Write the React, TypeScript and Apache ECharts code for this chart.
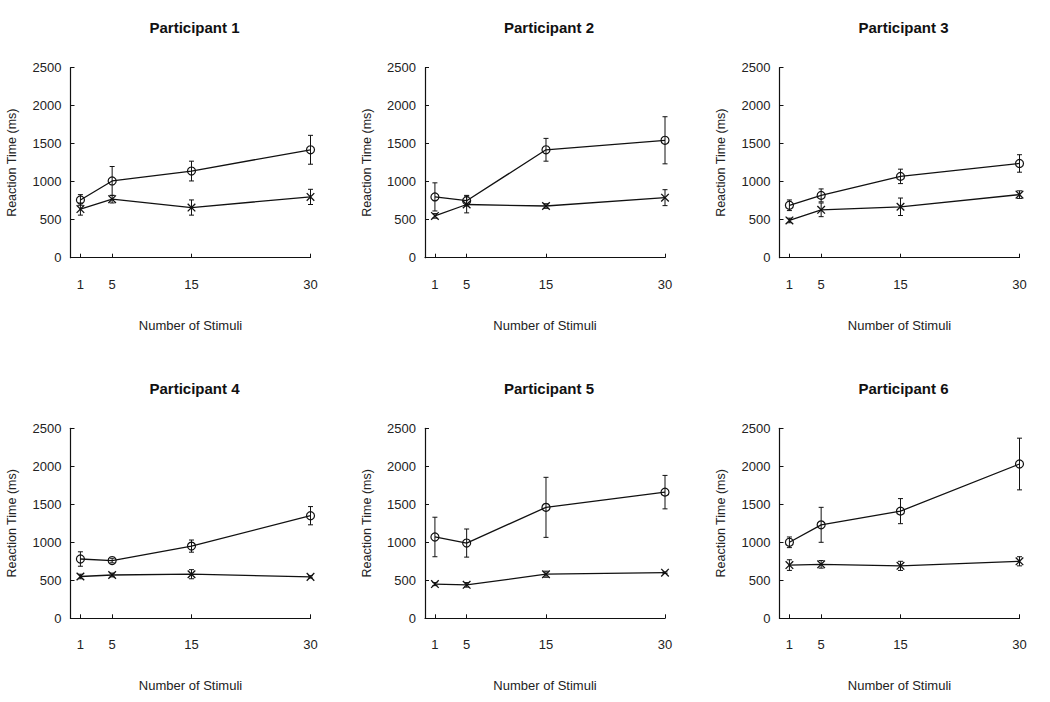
import React, { useEffect, useRef } from "react";
import * as echarts from "echarts";

const stimuli = [1, 5, 15, 30];
const participants = [
  "Participant 1",
  "Participant 2",
  "Participant 3",
  "Participant 4",
  "Participant 5",
  "Participant 6",
];

// open-circle condition (mean, error)
const circleMeans = [
  [760, 1010, 1140, 1420],
  [800, 750, 1420, 1545],
  [690, 820, 1070, 1240],
  [780, 760, 950, 1350],
  [1070, 990, 1460, 1660],
  [1000, 1230, 1410, 2030],
];
const circleErrors = [
  [70, 190, 130, 190],
  [185, 70, 150, 310],
  [70, 85, 95, 115],
  [95, 30, 80, 120],
  [260, 185, 395, 220],
  [70, 230, 165, 340],
];
// cross condition (mean, error)
const crossMeans = [
  [640, 770, 660, 800],
  [550, 700, 680, 790],
  [490, 630, 670, 830],
  [550, 570, 580, 545],
  [450, 440, 580, 600],
  [700, 710, 690, 750],
];
const crossErrors = [
  [80, 50, 100, 100],
  [30, 110, 30, 105],
  [30, 90, 115, 50],
  [30, 25, 60, 15],
  [20, 30, 40, 10],
  [70, 50, 60, 60],
];

const FONT = "'Liberation Sans', Arial, Helvetica, sans-serif";
const INK = "#111";
const TXT = "#222";

const colLeft = [70.5, 425, 779.5];
const rowTop = [67.7, 428.3];
const PW = 240;
const PH = 190;

function errorSeries(panel: number, means: number[], errs: number[], kind: "circle" | "cross") {
  return {
    type: "custom",
    xAxisIndex: panel,
    yAxisIndex: panel,
    data: stimuli.map((s, i) => [s, means[i], errs[i]]),
    encode: { x: 0, y: 1 },
    z: 3,
    renderItem: (_params: any, api: any) => {
      const x = api.value(0);
      const m = api.value(1);
      const e = api.value(2);
      const p = api.coord([x, m]);
      const t = api.coord([x, m + e]);
      const b = api.coord([x, m - e]);
      const st = { stroke: INK, lineWidth: 1, fill: "none" };
      const cap = 2.5;
      const children: any[] = [
        { type: "line", shape: { x1: t[0], y1: t[1], x2: b[0], y2: b[1] }, style: st },
        { type: "line", shape: { x1: t[0] - cap, y1: t[1], x2: t[0] + cap, y2: t[1] }, style: st },
        { type: "line", shape: { x1: b[0] - cap, y1: b[1], x2: b[0] + cap, y2: b[1] }, style: st },
      ];
      if (kind === "circle") {
        children.push({
          type: "circle",
          shape: { cx: p[0], cy: p[1], r: 4 },
          style: { stroke: INK, lineWidth: 1.2, fill: "none" },
        });
      } else {
        const r = 3.8;
        const xs = { stroke: INK, lineWidth: 1.3, fill: "none" };
        children.push({ type: "line", shape: { x1: p[0] - r, y1: p[1] - r, x2: p[0] + r, y2: p[1] + r }, style: xs });
        children.push({ type: "line", shape: { x1: p[0] - r, y1: p[1] + r, x2: p[0] + r, y2: p[1] - r }, style: xs });
      }
      return { type: "group", children };
    },
  };
}

export default function App() {
  const ref = useRef<HTMLDivElement>(null);
  useEffect(() => {
    if (!ref.current) return;
    const chart = echarts.init(ref.current, null, { renderer: "svg" });
    const grids: any[] = [];
    const xAxes: any[] = [];
    const yAxes: any[] = [];
    const series: any[] = [];
    const graphics: any[] = [];
    participants.forEach((name, i) => {
      const c = i % 3;
      const r = Math.floor(i / 3);
      grids.push({ left: colLeft[c], top: rowTop[r], width: PW, height: PH, containLabel: false });
      xAxes.push({
        type: "value",
        gridIndex: i,
        min: -0.25,
        max: 30,
        name: "Number of Stimuli",
        nameLocation: "middle",
        nameGap: 61,
        nameTextStyle: { fontFamily: FONT, fontSize: 13, color: TXT },
        axisLine: { show: true, onZero: false, lineStyle: { color: INK, width: 1.2 } },
        axisTick: { show: true, inside: true, length: 4, customValues: stimuli, lineStyle: { color: INK } },
        axisLabel: {
          show: true,
          customValues: stimuli,
          margin: 20,
          fontFamily: FONT,
          fontSize: 13,
          color: TXT,
          formatter: (v: number) => String(v),
        },
        splitLine: { show: false },
      });
      yAxes.push({
        type: "value",
        gridIndex: i,
        min: 0,
        max: 2500,
        interval: 500,
        name: "Reaction Time (ms)",
        nameLocation: "middle",
        nameRotate: 90,
        nameGap: 52,
        nameTextStyle: { fontFamily: FONT, fontSize: 12.5, color: TXT },
        axisLine: { show: true, onZero: false, lineStyle: { color: INK, width: 1.2 } },
        axisTick: { show: true, inside: true, length: 4, lineStyle: { color: INK } },
        axisLabel: {
          show: true,
          margin: 9,
          fontFamily: FONT,
          fontSize: 13,
          color: TXT,
          formatter: (v: number) => String(v),
        },
        splitLine: { show: false },
      });
      series.push({
        type: "line",
        xAxisIndex: i,
        yAxisIndex: i,
        symbol: "none",
        data: stimuli.map((s, k) => [s, circleMeans[i][k]]),
        lineStyle: { color: INK, width: 1.3 },
        z: 2,
      });
      series.push({
        type: "line",
        xAxisIndex: i,
        yAxisIndex: i,
        symbol: "none",
        data: stimuli.map((s, k) => [s, crossMeans[i][k]]),
        lineStyle: { color: INK, width: 1.3 },
        z: 2,
      });
      series.push(errorSeries(i, circleMeans[i], circleErrors[i], "circle"));
      series.push(errorSeries(i, crossMeans[i], crossErrors[i], "cross"));
      graphics.push({
        type: "text",
        x: colLeft[c] + PW / 2 + 4,
        y: r === 0 ? 27 : 388,
        style: {
          text: name,
          fontFamily: FONT,
          fontSize: 15,
          fontWeight: "bold",
          fill: "#111",
          textAlign: "center",
          textVerticalAlign: "middle",
        },
      });
    });
    chart.setOption({
      animation: false,
      backgroundColor: "#fff",
      grid: grids,
      xAxis: xAxes,
      yAxis: yAxes,
      series,
      graphic: graphics,
    });
    return () => chart.dispose();
  }, []);
  return (
    <div
      ref={ref}
      style={{ position: "absolute", left: 0, top: 0, width: 1050, height: 702, background: "#fff" }}
    />
  );
}
